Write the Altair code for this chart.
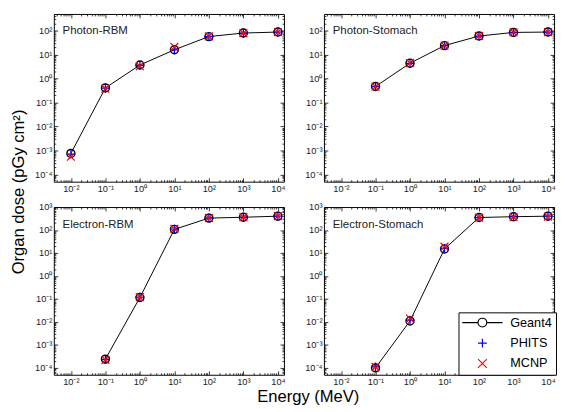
import altair as alt
import pandas as pd

# ---------------- data ----------------
energies_photon_rbm = [0.01, 0.1, 1, 10, 100, 1000, 10000]
photon_rbm_geant4 = [7.6e-4, 0.41, 3.7, 16, 57, 80, 88]
photon_rbm_phits = [7.0e-4, 0.40, 3.6, 16, 57, 80, 88]
photon_rbm_mcnp = [5.5e-4, 0.38, 3.3, 21, 58, 80, 88]

energies_other = [0.1, 1, 10, 100, 1000, 10000]
photon_stomach_geant4 = [0.47, 4.4, 24, 60, 85, 88]
photon_stomach_phits = [0.46, 4.3, 24, 60, 85, 88]
photon_stomach_mcnp = [0.46, 4.5, 24, 61, 85, 88]

electron_rbm_geant4 = [2.4e-4, 0.115, 107, 330, 360, 400]
electron_rbm_phits = [2.3e-4, 0.12, 110, 335, 365, 405]
electron_rbm_mcnp = [2.2e-4, 0.12, 112, 335, 365, 400]

electron_stomach_geant4 = [1.0e-4, 0.011, 15, 350, 380, 400]
electron_stomach_phits = [1.1e-4, 0.012, 16, 350, 380, 400]
electron_stomach_mcnp = [1.1e-4, 0.014, 19, 345, 375, 380]

panel_names = ["Photon-RBM", "Photon-Stomach", "Electron-RBM", "Electron-Stomach"]
codes = ["Geant4", "PHITS", "MCNP"]
code_colors = ["black", "blue", "red"]

x_exps = [-2, -1, 0, 1, 2, 3, 4]
x_labels = ["10⁻²", "10⁻¹", "10⁰", "10¹", "10²", "10³", "10⁴"]
y_exps_top = [-4, -3, -2, -1, 0, 1, 2]
y_exps_bot = [-4, -3, -2, -1, 0, 1, 2, 3]
y_labels = {-4: "10⁻⁴", -3: "10⁻³", -2: "10⁻²", -1: "10⁻¹", 0: "10⁰",
            1: "10¹", 2: "10²", 3: "10³"}

X_DOMAIN = [3.2e-3, 1.5e4]
Y_DOMAIN_TOP = [5e-5, 500]
Y_DOMAIN_BOT = [5e-5, 1000]

W, H = 236, 172
FONT = "Liberation Sans"

PLUS = "M-1,0L1,0M0,-1L0,1"
CROSS = "M-1,-1L1,1M-1,1L1,-1"
G4_LEGEND = "M-4.6,0L-1,0M1,0L4.6,0M1,0A1,1,0,1,1,-1,0A1,1,0,1,1,1,0Z"


def label_expr(exps, labels):
    expr = "''"
    for e, lab in reversed(list(zip(exps, labels))):
        expr = f"round(log(datum.value)/LN10)=={e} ? '{lab}' : {expr}"
    return expr


def minor_values(domain):
    vals = []
    for e in range(-6, 6):
        for m in range(2, 10):
            v = m * 10.0 ** e
            if domain[0] < v < domain[1]:
                vals.append(v)
    return vals


def axes(orient, major_vals, minor_vals, lab_expr):
    common = dict(domain=False, grid=False, title=None, tickColor="black",
                  tickWidth=0.8)
    major_lab = alt.Axis(orient=orient, values=major_vals, labelExpr=lab_expr,
                         offset=-4, tickSize=4, labelFontSize=9.5, labelFont=FONT,
                         labelColor="#222", labelPadding=2, labelFlush=False,
                         labelOverlap=False, **common)
    minor = alt.Axis(orient=orient, values=minor_vals, labels=False,
                     offset=-2, tickSize=2, **common)
    return major_lab, minor


def opp_axes(orient, major_vals, minor_vals):
    common = dict(domain=False, grid=False, title=None, tickColor="black",
                  tickWidth=0.8, labels=False)
    return (alt.Axis(orient=orient, values=major_vals, offset=-4, tickSize=4, **common),
            alt.Axis(orient=orient, values=minor_vals, offset=-2, tickSize=2, **common))


def panel(name, energies, g4, ph, mc, ydom, yexps, legend=False):
    df = pd.DataFrame({"E": energies, "Geant4": g4, "PHITS": ph, "MCNP": mc})
    xs = alt.Scale(type="log", domain=X_DOMAIN, nice=False)
    ys = alt.Scale(type="log", domain=ydom, nice=False)
    xmaj = [10.0 ** e for e in x_exps]
    ymaj = [10.0 ** e for e in yexps]
    xmin = minor_values(X_DOMAIN)
    ymin = minor_values(ydom)
    xb_major, xb_minor = axes("bottom", xmaj, xmin, label_expr(x_exps, x_labels))
    yl_major, yl_minor = axes("left", ymaj, ymin,
                              label_expr(yexps, [y_labels[e] for e in yexps]))
    xt_major, xt_minor = opp_axes("top", xmaj, xmin)
    yr_major, yr_minor = opp_axes("right", ymaj, ymin)

    base = alt.Chart(df)
    line = base.mark_line(color="black", strokeWidth=1).encode(
        x=alt.X("E:Q", scale=xs, axis=xb_major),
        y=alt.Y("Geant4:Q", scale=ys, axis=yl_major))
    circ = base.mark_point(shape="circle", size=66, color="black", filled=False,
                           strokeWidth=1.5, opacity=1).encode(
        x=alt.X("E:Q", scale=xs, axis=xb_minor),
        y=alt.Y("Geant4:Q", scale=ys, axis=yl_minor))
    plus = base.mark_point(shape=PLUS, size=81, color="blue", filled=False,
                           strokeWidth=1.3, opacity=1).encode(
        x=alt.X("E:Q", scale=xs, axis=xt_major),
        y=alt.Y("PHITS:Q", scale=ys, axis=yr_major))
    cross = base.mark_point(shape=CROSS, size=64, color="red", filled=False,
                            strokeWidth=1.3, opacity=1).encode(
        x=alt.X("E:Q", scale=xs, axis=xt_minor),
        y=alt.Y("MCNP:Q", scale=ys, axis=yr_minor))
    txt = alt.Chart(pd.DataFrame({"t": [name]})).mark_text(
        align="left", baseline="middle", font=FONT, fontSize=11.7, color="#222"
    ).encode(x=alt.value(9), y=alt.value(17), text="t:N")

    layers = [line, circ, plus, cross, txt]
    if legend:
        ldf = pd.DataFrame({"E": [energies[0]] * 3, "v": [g4[0]] * 3, "code": codes})
        leg = alt.Chart(ldf).mark_point(opacity=0, filled=False).encode(
            x=alt.X("E:Q", scale=xs, axis=None),
            y=alt.Y("v:Q", scale=ys, axis=None),
            shape=alt.Shape("code:N", scale=alt.Scale(domain=codes,
                                                      range=[G4_LEGEND, PLUS, CROSS]),
                            legend=None),
            color=alt.Color("code:N", scale=alt.Scale(domain=codes, range=code_colors),
                            legend=alt.Legend(
                                title=None, orient="none", legendX=W - 98, legendY=108,
                                strokeColor="black", fillColor="white", padding=4,
                                labelFontSize=13, labelFont=FONT, labelColor="black",
                                symbolSize=81, symbolStrokeWidth=1.2, symbolOpacity=1,
                                symbolOffset=14, labelOffset=22, rowPadding=6,
                                cornerRadius=0)),
        )
        layers.append(leg)
    return alt.layer(*layers).resolve_axis(x="independent", y="independent").properties(
        width=W, height=H)


def indep(c):
    return c.resolve_scale(color="independent", shape="independent").resolve_legend(
        color="independent", shape="independent")


p1 = panel(panel_names[0], energies_photon_rbm, photon_rbm_geant4, photon_rbm_phits,
           photon_rbm_mcnp, Y_DOMAIN_TOP, y_exps_top)
p2 = panel(panel_names[1], energies_other, photon_stomach_geant4, photon_stomach_phits,
           photon_stomach_mcnp, Y_DOMAIN_TOP, y_exps_top)
p3 = panel(panel_names[2], energies_other, electron_rbm_geant4, electron_rbm_phits,
           electron_rbm_mcnp, Y_DOMAIN_BOT, y_exps_bot)
p4 = panel(panel_names[3], energies_other, electron_stomach_geant4, electron_stomach_phits,
           electron_stomach_mcnp, Y_DOMAIN_BOT, y_exps_bot, legend=True)

row1 = indep(alt.hconcat(p1, p2, spacing=18))
row2 = indep(alt.hconcat(p3, p4, spacing=18))
grid = indep(alt.vconcat(row1, row2, spacing=8))

mid = indep(alt.hconcat(grid, spacing=0)).properties(
    title=alt.TitleParams("Organ dose (pGy cm²)", orient="left", anchor="middle",
                          font=FONT, fontSize=17, fontWeight="normal",
                          color="black", offset=6, dx=8))
chart = indep(alt.vconcat(mid, spacing=0)).properties(
    title=alt.TitleParams("Energy (MeV)", orient="bottom", anchor="middle",
                          font=FONT, fontSize=17, fontWeight="normal",
                          color="black", offset=3, dx=25),
    padding={"left": 2, "top": 0, "right": 0, "bottom": 0},
).configure_view(stroke="black", strokeWidth=1)

chart.save("out.html", embed_options={"renderer": "svg", "actions": False})
